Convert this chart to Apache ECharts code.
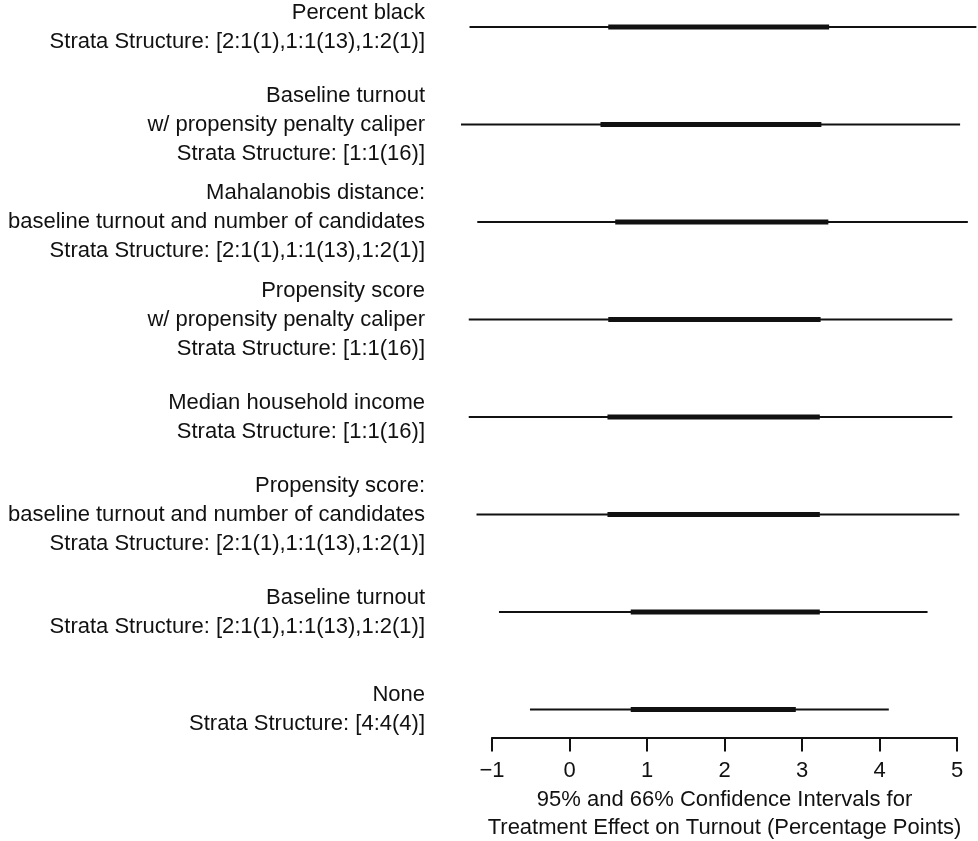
<!DOCTYPE html>
<html>
<head>
<meta charset="utf-8">
<script src="https://cdn.jsdelivr.net/npm/echarts@6/dist/echarts.min.js"></script>
<style>html,body{margin:0;padding:0;background:#fff;}#c{width:978px;height:841px;}</style>
</head>
<body>
<div id="c"></div>
<script>
var categories = [
  "Percent black\nStrata Structure: [2:1(1),1:1(13),1:2(1)]",
  "Baseline turnout\nw/ propensity penalty caliper\nStrata Structure: [1:1(16)]",
  "Mahalanobis distance:\nbaseline turnout and number of candidates\nStrata Structure: [2:1(1),1:1(13),1:2(1)]",
  "Propensity score\nw/ propensity penalty caliper\nStrata Structure: [1:1(16)]",
  "Median household income\nStrata Structure: [1:1(16)]",
  "Propensity score:\nbaseline turnout and number of candidates\nStrata Structure: [2:1(1),1:1(13),1:2(1)]",
  "Baseline turnout\nStrata Structure: [2:1(1),1:1(13),1:2(1)]",
  "None\nStrata Structure: [4:4(4)]"
];
var lo95 = [-1.29, -1.40, -1.19, -1.30, -1.30, -1.20, -0.91, -0.51];
var hi95 = [5.25, 5.04, 5.14, 4.94, 4.94, 5.03, 4.62, 4.12];
var lo66 = [0.50, 0.40, 0.59, 0.50, 0.49, 0.49, 0.79, 0.79];
var hi66 = [3.35, 3.25, 3.34, 3.24, 3.23, 3.23, 3.23, 2.92];
var xTicks = [-1, 0, 1, 2, 3, 4, 5];
var axisTitle = "95% and 66% Confidence Intervals for\nTreatment Effect on Turnout (Percentage Points)";

var data = categories.map(function (c, i) {
  return [i, lo95[i], hi95[i], lo66[i], hi66[i]];
});

var FONT = "'Liberation Sans', Arial, Helvetica, sans-serif";
var INK = '#111';

var chart = echarts.init(document.getElementById('c'), null, {renderer: 'canvas'});
chart.setOption({
  backgroundColor: '#fff',
  animation: false,
  grid: {left: 492, right: 21, top: 27, bottom: 131.5, containLabel: false, outerBoundsMode: 'none'},
  xAxis: {
    type: 'value',
    min: xTicks[0],
    max: xTicks[xTicks.length - 1],
    interval: 1,
    position: 'bottom',
    offset: 28,
    axisLine: {show: true, lineStyle: {color: INK, width: 2}},
    axisTick: {show: true, length: 14, lineStyle: {color: INK, width: 2}},
    splitLine: {show: false},
    axisLabel: {
      margin: 22, color: INK, fontSize: 22, fontFamily: FONT,
      formatter: function (v) { return String(v).replace('-', '\u2212'); }
    },
    name: axisTitle,
    nameLocation: 'middle',
    nameGap: 47,
    nameTextStyle: {color: INK, fontSize: 22, fontFamily: FONT, lineHeight: 28, align: 'center'}
  },
  yAxis: {
    type: 'category',
    data: categories,
    inverse: true,
    boundaryGap: false,
    axisLine: {show: false},
    axisTick: {show: false},
    splitLine: {show: false},
    axisLabel: {
      margin: 67, color: INK, fontSize: 22, fontFamily: FONT, lineHeight: 29, align: 'right'
    }
  },
  series: [{
    type: 'custom',
    clip: false,
    data: data,
    encode: {x: [1, 2, 3, 4], y: 0},
    renderItem: function (params, api) {
      var y = api.value(0);
      var a = api.coord([api.value(1), y]);
      var b = api.coord([api.value(2), y]);
      var c = api.coord([api.value(3), y]);
      var d = api.coord([api.value(4), y]);
      return {
        type: 'group',
        children: [
          {type: 'line', shape: {x1: a[0], y1: a[1], x2: b[0], y2: b[1]},
           style: {stroke: INK, lineWidth: 2}},
          {type: 'line', shape: {x1: c[0], y1: c[1], x2: d[0], y2: d[1]},
           style: {stroke: INK, lineWidth: 5}}
        ]
      };
    }
  }]
});
</script>
</body>
</html>
